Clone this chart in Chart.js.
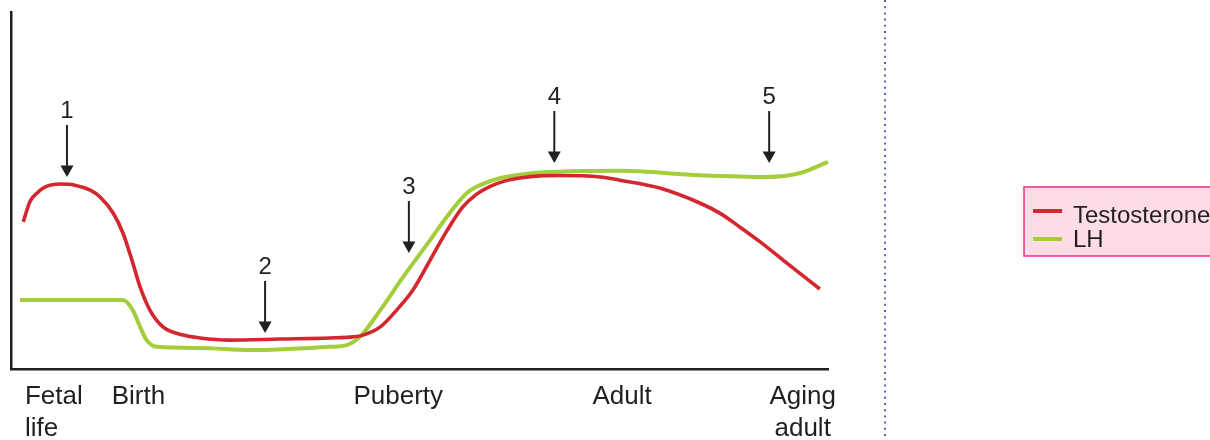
<!DOCTYPE html>
<html>
<head>
<meta charset="utf-8">
<script src="https://cdn.jsdelivr.net/npm/chart.js@4/dist/chart.umd.min.js"></script>
<style>
  html, body { margin: 0; padding: 0; background: #ffffff; }
  #wrap { width: 1210px; height: 440px; position: relative; }
</style>
</head>
<body>
<div id="wrap"><canvas id="c" width="1210" height="440"></canvas></div>
<script>
// ---- Data (x: life course 0-100, y: relative level 0-100) ----
const testosteroneX = [1.5, 2.3, 3.2, 4.2, 6.0, 7.8, 9.7, 10.9, 12.5, 13.7, 14.8, 15.8, 17.0, 18.6, 21.1, 23.1, 26.8, 32.9, 39.0, 41.9, 43.1, 45.2, 47.2, 49.2, 51.3, 53.4, 55.3, 57.0, 58.6, 60.5, 62.3, 64.7, 67.2, 72.1, 74.5, 79.4, 84.3, 86.8, 89.2, 91.7, 94.5, 99.0];
const testosteroneY = [41.2, 46.8, 49.3, 51.0, 51.8, 51.5, 50.1, 48.2, 43.7, 38.1, 30.5, 23.0, 16.5, 11.8, 9.5, 8.7, 8.1, 8.4, 8.7, 9.0, 9.5, 11.8, 16.5, 22.1, 30.5, 38.9, 45.4, 49.0, 51.1, 52.7, 53.5, 54.1, 54.2, 53.8, 52.9, 50.7, 46.5, 43.6, 39.8, 35.6, 30.5, 22.4];

const lhX = [1.1, 13.7, 14.9, 15.8, 16.6, 17.9, 23.1, 29.3, 33.8, 39.0, 41.1, 42.7, 45.2, 48.0, 51.3, 53.7, 55.8, 57.4, 59.9, 63.9, 66.3, 74.5, 84.3, 92.5, 96.6, 100.0];
const lhY = [19.3, 19.3, 16.5, 11.8, 8.1, 6.2, 5.9, 5.3, 5.6, 6.2, 6.7, 9.0, 16.5, 25.8, 36.1, 43.7, 49.3, 51.5, 53.5, 54.9, 55.2, 55.5, 54.3, 53.8, 54.9, 58.0];

const stageLabels = [['Fetal', 'life'], ['Birth'], ['Puberty'], ['Adult'], ['Aging', 'adult']];
const stageX = [1.7, 15.6, 47.4, 74.8, 96.9];

const markerLabels = ['1', '2', '3', '4', '5'];
const markerX = [6.85, 31.1, 48.7, 66.5, 92.8];
const markerY = [53.8, 10.1, 32.5, 57.7, 57.7];

const seriesNames = ['Testosterone', 'LH'];

// ---- Styles ----
const RED = '#d3262e';
const GREEN = '#a4cd3c';
const INK = '#231f20';
const FONT = "'Liberation Sans', Arial, Helvetica, sans-serif";

const toPoints = (xs, ys) => xs.map((x, i) => ({ x: x, y: ys[i] }));

const annotationsPlugin = {
  id: 'annotations',
  afterDatasetsDraw(chart) {
    const ctx = chart.ctx;
    const xs = chart.scales.x, ys = chart.scales.y;
    ctx.save();
    ctx.fillStyle = INK;
    ctx.strokeStyle = INK;
    ctx.font = '24px ' + FONT;
    ctx.textAlign = 'center';
    ctx.textBaseline = 'alphabetic';
    markerLabels.forEach((lab, i) => {
      const px = xs.getPixelForValue(markerX[i]);
      const tip = ys.getPixelForValue(markerY[i]);
      ctx.lineWidth = 2;
      ctx.beginPath();
      ctx.moveTo(px, tip - 52);
      ctx.lineTo(px, tip - 10);
      ctx.stroke();
      ctx.beginPath();
      ctx.moveTo(px - 6.5, tip - 11.5);
      ctx.lineTo(px + 6.5, tip - 11.5);
      ctx.lineTo(px, tip);
      ctx.closePath();
      ctx.fill();
      ctx.fillText(lab, px, tip - 59);
    });
    ctx.font = '26px ' + FONT;
    const base = xs.bottom + 35;
    stageLabels.forEach((lines, i) => {
      const px = xs.getPixelForValue(stageX[i]);
      ctx.textAlign = i === 0 ? 'left' : 'center';
      lines.forEach((t, j) => ctx.fillText(t, px, base + j * 32));
    });
    ctx.restore();
  },
  afterDraw(chart) {
    const ctx = chart.ctx;
    ctx.save();
    ctx.strokeStyle = '#5565b4';
    ctx.lineWidth = 2;
    ctx.setLineDash([2, 4.2]);
    ctx.beginPath();
    ctx.moveTo(885, 0);
    ctx.lineTo(885, 440);
    ctx.stroke();
    ctx.setLineDash([]);
    ctx.fillStyle = '#fcdde6';
    ctx.fillRect(1024, 187, 200, 69);
    ctx.strokeStyle = '#e6318c';
    ctx.lineWidth = 1.5;
    ctx.strokeRect(1024, 187, 200, 69);
    ctx.font = '24px ' + FONT;
    ctx.textAlign = 'left';
    ctx.fillStyle = INK;
    chart.data.datasets.forEach((ds, i) => {
      const ly = 211 + i * 28;
      ctx.strokeStyle = ds.borderColor;
      ctx.lineWidth = 4;
      ctx.beginPath();
      ctx.moveTo(1033, ly);
      ctx.lineTo(1062, ly);
      ctx.stroke();
      ctx.fillText(ds.label, 1073, 223 + i * 24);
    });
    ctx.restore();
  }
};

new Chart(document.getElementById('c'), {
  type: 'line',
  data: {
    datasets: [
      { label: seriesNames[0], data: toPoints(testosteroneX, testosteroneY), borderColor: RED, borderWidth: 3.6, pointRadius: 0, cubicInterpolationMode: 'monotone', clip: false, fill: false },
      { label: seriesNames[1], data: toPoints(lhX, lhY), borderColor: GREEN, borderWidth: 4, pointRadius: 0, cubicInterpolationMode: 'monotone', clip: false, fill: false }
    ]
  },
  options: {
    responsive: false,
    animation: false,
    devicePixelRatio: 1,
    layout: { padding: { left: 11, top: 12, right: 382, bottom: 71 } },
    plugins: { legend: { display: false }, tooltip: { enabled: false } },
    scales: {
      x: {
        type: 'linear', min: 0, max: 100,
        ticks: { display: false },
        grid: { display: false, drawTicks: false, tickLength: 0 },
        border: { display: true, color: INK, width: 2.5 }
      },
      y: {
        type: 'linear', min: 0, max: 100,
        ticks: { display: false },
        grid: { display: false, drawTicks: false, tickLength: 0 },
        border: { display: true, color: INK, width: 2.5 }
      }
    }
  },
  plugins: [annotationsPlugin]
});
</script>
</body>
</html>
